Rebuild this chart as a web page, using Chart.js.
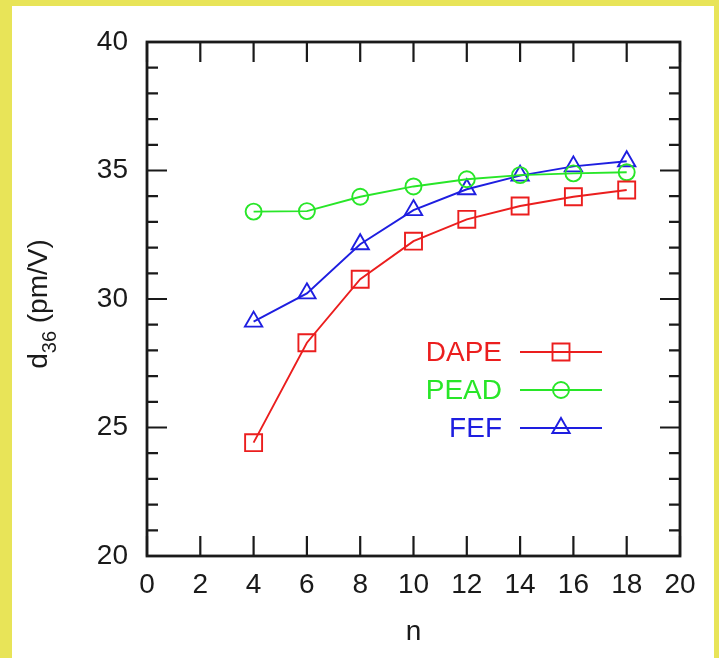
<!DOCTYPE html>
<html>
<head>
<meta charset="utf-8">
<title>d36 vs n</title>
<script src="https://cdn.jsdelivr.net/npm/chart.js@4.4.1/dist/chart.umd.min.js"></script>
<style>
  html, body { margin: 0; padding: 0; }
  body { width: 719px; height: 658px; background: #e8e458; overflow: hidden; position: relative; }
  #panel { position: absolute; left: 12px; top: 6px; width: 702px; height: 652px; background: #fff; }
</style>
</head>
<body>
<div id="panel"><canvas id="d36Chart" width="702" height="652"></canvas></div>
<script>
// chain length n and d36 coefficient (pm/V) for each molecule
const nValues = [4, 6, 8, 10, 12, 14, 16, 18];
const dapeD36 = [24.41, 28.30, 30.77, 32.25, 33.10, 33.62, 33.98, 34.24];
const peadD36 = [33.40, 33.42, 33.98, 34.38, 34.66, 34.82, 34.89, 34.93];
const fefD36  = [29.12, 30.22, 32.13, 33.46, 34.27, 34.80, 35.16, 35.36];

const seriesNames = ['DAPE', 'PEAD', 'FEF'];
const seriesColors = ['#eb1e1e', '#28e628', '#1e1ee0'];
const seriesMarkers = ['rect', 'circle', 'triangle'];
const markerRadius = [12, 8, 10];

const xTicks = [0, 2, 4, 6, 8, 10, 12, 14, 16, 18, 20];
const yTicks = [20, 25, 30, 35, 40];
const yMinorStep = 1;

const FONT = "'Liberation Sans', Arial, Helvetica, sans-serif";
const INK = '#1a1a1a';
const LW = 1.9;

const toPoints = vals => nValues.map((n, i) => ({ x: n, y: vals[i] }));

const datasets = [dapeD36, peadD36, fefD36].map((vals, i) => ({
  label: seriesNames[i],
  data: toPoints(vals),
  borderColor: seriesColors[i],
  borderWidth: LW,
  tension: 0,
  fill: false,
  pointStyle: seriesMarkers[i],
  pointRadius: markerRadius[i],
  pointHoverRadius: markerRadius[i],
  pointBorderWidth: LW,
  pointBorderColor: seriesColors[i],
  pointBackgroundColor: 'rgba(0,0,0,0)'
}));

// box around the plot with gnuplot-style inward ticks on all four sides
const frameTicks = {
  id: 'frameTicks',
  afterDatasetsDraw(chart) {
    const { ctx, chartArea: a, scales: { x, y } } = chart;
    ctx.save();
    ctx.strokeStyle = INK;
    ctx.lineWidth = 2.2;
    ctx.beginPath();
    xTicks.forEach(v => {
      const px = x.getPixelForValue(v);
      ctx.moveTo(px, a.bottom); ctx.lineTo(px, a.bottom - 20);
      ctx.moveTo(px, a.top); ctx.lineTo(px, a.top + 20);
    });
    for (let v = yTicks[0]; v <= yTicks[yTicks.length - 1]; v += yMinorStep) {
      const py = y.getPixelForValue(v);
      const len = yTicks.includes(v) ? 20 : 11;
      ctx.moveTo(a.left, py); ctx.lineTo(a.left + len, py);
      ctx.moveTo(a.right, py); ctx.lineTo(a.right - len, py);
    }
    ctx.stroke();
    ctx.lineWidth = 2.8;
    ctx.strokeRect(a.left, a.top, a.right - a.left, a.bottom - a.top);
    ctx.restore();
  }
};

// y axis title with a subscript: d_36 (pm/V)
const yTitle = {
  id: 'yTitle',
  afterDraw(chart) {
    const { ctx, chartArea: a } = chart;
    const main = '28px ' + FONT, sub = '20px ' + FONT;
    ctx.save();
    ctx.translate(35, (a.top + a.bottom) / 2 + 5);
    ctx.rotate(-Math.PI / 2);
    ctx.fillStyle = INK;
    ctx.textBaseline = 'alphabetic';
    ctx.textAlign = 'left';
    ctx.font = main;
    const wD = ctx.measureText('d').width;
    const wRest = ctx.measureText(' (pm/V)').width;
    ctx.font = sub;
    const wSub = ctx.measureText('36').width;
    let cx = -(wD + wSub + wRest) / 2;
    ctx.font = main;
    ctx.fillText('d', cx, 0);
    cx += wD;
    ctx.font = sub;
    ctx.fillText('36', cx, 9);
    cx += wSub;
    ctx.font = main;
    ctx.fillText(' (pm/V)', cx, 0);
    ctx.restore();
  }
};

// key inside the plot: coloured name, sample line, marker
const keyBox = {
  id: 'keyBox',
  afterDraw(chart) {
    const { ctx } = chart;
    ctx.save();
    ctx.font = '28px ' + FONT;
    ctx.textAlign = 'right';
    ctx.textBaseline = 'middle';
    seriesNames.forEach((name, i) => {
      const ky = 346 + 38 * i;
      ctx.fillStyle = seriesColors[i];
      ctx.fillText(name, 490, ky + 1);
      ctx.strokeStyle = seriesColors[i];
      ctx.lineWidth = LW;
      ctx.beginPath();
      ctx.moveTo(508, ky); ctx.lineTo(590, ky);
      ctx.stroke();
      ctx.fillStyle = 'rgba(0,0,0,0)';
      Chart.helpers.drawPoint(ctx, {
        pointStyle: seriesMarkers[i], radius: markerRadius[i], rotation: 0, borderWidth: LW
      }, 549, ky);
    });
    ctx.restore();
  }
};

new Chart(document.getElementById('d36Chart'), {
  type: 'line',
  data: { datasets },
  plugins: [frameTicks, yTitle, keyBox],
  options: {
    responsive: false,
    animation: false,
    layout: { padding: { top: 36, right: 34, bottom: 0, left: 0 } },
    plugins: { legend: { display: false }, tooltip: { enabled: false } },
    scales: {
      x: {
        type: 'linear',
        min: 0, max: 20,
        afterBuildTicks: s => { s.ticks = xTicks.map(v => ({ value: v })); },
        afterFit: s => { s.height = 102; },
        grid: { display: false, drawTicks: false },
        border: { display: false },
        ticks: { font: { family: FONT, size: 28 }, color: INK, padding: 12, maxRotation: 0 },
        title: { display: true, text: 'n', font: { family: FONT, size: 28 }, color: INK, padding: { top: 0, bottom: 9 } }
      },
      y: {
        type: 'linear',
        min: 20, max: 40,
        afterBuildTicks: s => { s.ticks = yTicks.map(v => ({ value: v })); },
        afterFit: s => { s.width = 135; },
        grid: { display: false, drawTicks: false },
        border: { display: false },
        ticks: { font: { family: FONT, size: 28 }, color: INK, padding: 19 }
      }
    }
  }
});
</script>
</body>
</html>
